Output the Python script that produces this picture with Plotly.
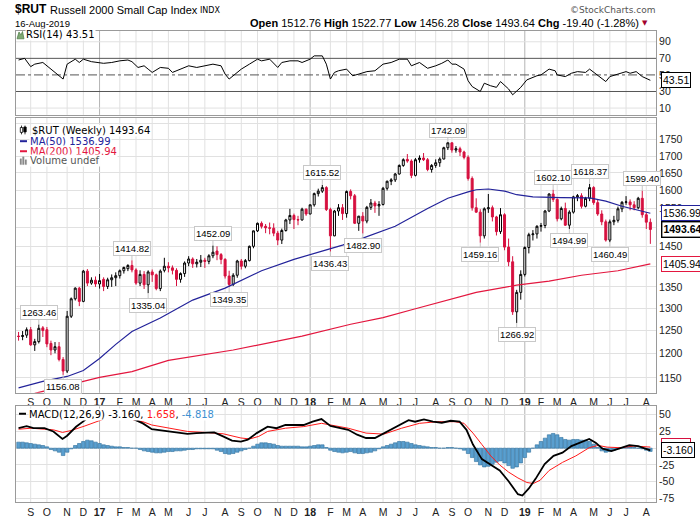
import numpy as np
import pandas as pd
import plotly.graph_objects as go

# weekly bars, week of 15-Aug-2016 .. week of 12-Aug-2019
weeks = pd.date_range("2016-08-15", periods=157, freq="W-MON")

bar_open = [1238, 1237, 1240, 1252, 1219, 1226, 1256, 1252, 1222, 1208,
            1215, 1188, 1164, 1282, 1322, 1347, 1316, 1388, 1359, 1366,
            1357, 1368, 1351, 1367, 1372, 1377, 1389, 1394, 1402, 1391,
            1359, 1380, 1355, 1386, 1379, 1346, 1390, 1400, 1396, 1390,
            1368, 1382, 1408, 1418, 1406, 1410, 1415, 1412, 1426, 1438,
            1429, 1417, 1376, 1356, 1378, 1413, 1400, 1414, 1450, 1490,
            1510, 1502, 1498, 1497, 1484, 1466, 1491, 1519, 1531, 1520,
            1519, 1548, 1535, 1560, 1591, 1598, 1608, 1547, 1477, 1543,
            1552, 1536, 1597, 1585, 1510, 1529, 1516, 1553, 1565, 1557,
            1561, 1606, 1626, 1630, 1647, 1672, 1690, 1685, 1643, 1689,
            1694, 1689, 1660, 1672, 1680, 1691, 1725, 1740, 1718, 1722,
            1712, 1696, 1634, 1552, 1540, 1477, 1549, 1552, 1527, 1488,
            1533, 1448, 1411, 1292, 1337, 1380, 1447, 1480, 1482, 1502,
            1504, 1543, 1590, 1575, 1522, 1550, 1505, 1540, 1582, 1585,
            1556, 1578, 1608, 1566, 1535, 1514, 1466, 1514, 1518, 1549,
            1567, 1568, 1560, 1552, 1578, 1533, 1512.76]
bar_high = [1247, 1249, 1257, 1258, 1232, 1263.46, 1260, 1258, 1228, 1225,
            1225, 1193, 1294, 1325, 1349, 1350, 1391, 1393, 1373, 1375,
            1381, 1373, 1372, 1380, 1385, 1392, 1399, 1405, 1414.82, 1395,
            1390, 1388, 1390, 1392, 1382, 1392, 1421, 1410, 1402, 1395,
            1385, 1412, 1425, 1422, 1418, 1428, 1421, 1430, 1452.09, 1450,
            1433, 1420, 1389, 1383, 1416, 1418, 1418, 1452, 1491, 1512,
            1515, 1508, 1512, 1510, 1490, 1496, 1522, 1549, 1536, 1530,
            1552, 1550, 1561, 1594, 1605, 1615.52, 1612, 1552, 1546, 1562,
            1562, 1600, 1603, 1590, 1530, 1540, 1557, 1576, 1571, 1570,
            1610, 1628, 1635, 1650, 1675, 1693, 1706, 1690, 1694, 1702,
            1709, 1694, 1676, 1690, 1696, 1728, 1742.09, 1741, 1730, 1728,
            1716, 1702, 1640, 1578, 1548, 1553, 1590, 1558, 1530, 1551,
            1537, 1470, 1425, 1343, 1390, 1450, 1485, 1492, 1505, 1511,
            1546, 1592, 1602.10, 1578, 1555, 1566, 1545, 1585, 1590, 1592,
            1582, 1618.37, 1612, 1575, 1545, 1520, 1520, 1530, 1555, 1570,
            1584, 1575, 1570, 1582, 1599.40, 1540, 1522.77]
bar_low = [1228, 1229, 1234, 1217, 1206, 1222, 1236, 1214, 1197, 1201,
           1184, 1156.08, 1160, 1278, 1318, 1305, 1314, 1352, 1355, 1350,
           1346, 1340, 1345, 1350, 1352, 1370, 1382, 1388, 1385, 1355,
           1352, 1345, 1335.04, 1362, 1342, 1340, 1385, 1385, 1380, 1352,
           1360, 1374, 1400, 1396, 1397, 1398, 1396, 1405, 1420, 1415,
           1405, 1370, 1349.35, 1352, 1372, 1392, 1395, 1412, 1445, 1487,
           1496, 1484, 1481, 1476, 1453, 1456, 1488, 1508, 1495, 1505,
           1517, 1530, 1534, 1555, 1583, 1593, 1543, 1436.43, 1476, 1530,
           1519, 1525, 1575, 1508, 1490, 1482.90, 1510, 1546, 1538, 1530,
           1558, 1600, 1615, 1624, 1645, 1668, 1680, 1635, 1640, 1680,
           1685, 1655, 1651, 1665, 1668, 1690, 1718, 1710, 1710, 1700,
           1690, 1628, 1544, 1538, 1459.16, 1470, 1538, 1515, 1478, 1482,
           1440, 1400, 1285, 1266.92, 1320, 1375, 1432, 1465, 1470, 1488,
           1497, 1540, 1568, 1515, 1518, 1503, 1494.99, 1536, 1570, 1550,
           1553, 1570, 1560, 1530, 1505, 1462, 1460.49, 1505, 1512, 1540,
           1560, 1545, 1545, 1548, 1525, 1495, 1456.28]
bar_close = [1237, 1239, 1252, 1219, 1226, 1255, 1250, 1221, 1208, 1215,
             1188, 1164, 1282, 1322, 1347, 1316, 1388, 1359, 1366, 1357,
             1365, 1351, 1367, 1372, 1377, 1389, 1397, 1402, 1391, 1359,
             1380, 1355, 1386, 1379, 1346, 1388, 1400, 1396, 1390, 1368,
             1382, 1408, 1418, 1406, 1410, 1415, 1412, 1426, 1435, 1429,
             1417, 1376, 1356, 1378, 1413, 1400, 1414, 1450, 1490, 1510,
             1502, 1498, 1497, 1484, 1466, 1491, 1519, 1531, 1520, 1519,
             1548, 1535, 1560, 1591, 1598, 1608, 1547, 1477, 1543, 1552,
             1536, 1597, 1585, 1510, 1529, 1516, 1553, 1565, 1557, 1561,
             1606, 1626, 1630, 1647, 1672, 1689, 1685, 1643, 1689, 1694,
             1689, 1660, 1672, 1680, 1691, 1725, 1740, 1718, 1722, 1712,
             1696, 1634, 1552, 1540, 1477, 1549, 1552, 1527, 1488, 1533,
             1448, 1411, 1292, 1337, 1380, 1447, 1480, 1482, 1502, 1504,
             1543, 1590, 1575, 1522, 1550, 1505, 1540, 1582, 1585, 1556,
             1578, 1608, 1566, 1535, 1514, 1466, 1514, 1518, 1549, 1567,
             1568, 1560, 1552, 1578, 1533, 1513, 1493.64]

# moving averages (week index, value)
ma50_wk = [0, 6, 12, 16, 20, 24, 28, 35, 43, 51, 60, 68, 76, 80, 85, 93, 101,
           106, 111, 113, 116, 120, 123, 127, 134, 141, 145, 149, 156]
ma50_val = [1130, 1143, 1153, 1165, 1190, 1220, 1248, 1278, 1319, 1347, 1389,
            1417, 1441, 1453, 1471, 1502, 1550, 1578, 1596, 1602, 1604, 1598,
            1588, 1582, 1580, 1579, 1570, 1556, 1536.99]
ma200_wk = [4, 12, 20, 28, 37, 53, 70, 82, 90, 98, 107, 113, 123, 131, 139, 148, 156]
ma200_val = [1119, 1135, 1151, 1163, 1186, 1208, 1238, 1264, 1279, 1299, 1322,
             1337, 1354, 1364, 1378, 1389, 1405.94]

# RSI(14)
rsi_wk = [0, 1.5, 3, 4, 6, 7.5, 9, 11, 12, 14, 15, 16, 18, 20, 21, 23, 25, 27,
          28, 29.5, 31, 32, 33, 35, 37, 38, 40, 42, 44, 46, 48, 50, 51, 52, 54,
          55, 57, 59, 60, 62, 64, 65, 67, 69, 70, 72, 73, 75, 76, 77, 78, 79,
          81, 82.5, 84, 86, 88, 90, 92, 94, 96, 97, 99, 101, 103, 104.5, 106,
          107, 108, 110, 111, 112, 114, 115, 116.5, 118, 119, 121, 122, 124,
          125.5, 128, 129, 131, 132.5, 133, 135, 136.5, 138, 140, 141, 142.5,
          145, 146, 148, 150, 151, 152.5, 154, 156]
rsi_val = [68, 70, 60, 63, 65, 59, 53, 45, 63, 69, 65, 69, 66, 65, 64, 65, 67,
           68, 66, 59, 61, 57, 53, 59, 58, 53, 57, 61, 59, 61, 63, 61, 51, 45,
           53, 57, 63, 69, 67, 69, 59, 65, 67, 67, 65, 69, 73, 73, 63, 45, 53,
           55, 57, 49, 51, 54, 55, 63, 65, 69, 69, 61, 65, 58, 61, 64, 68, 63,
           63, 57, 43, 36, 30, 40, 37, 35, 42, 33, 26, 35, 44, 49, 50, 57, 55,
           50, 48, 52, 54, 53, 57, 51, 42, 48, 51, 54, 52, 54, 48, 43.51]

# MACD(12,26,9)
macd_wk = [0, 2, 3.7, 6.4, 8.6, 10.85, 12, 14.2, 16.4, 18, 20, 23, 26, 28.5,
           30.7, 32.9, 35.1, 37.3, 39.5, 41.7, 43.9, 46.1, 48.3, 50.5, 52.7,
           54.9, 56.6, 58.8, 61.5, 63.7, 65.9, 68.1, 70.4, 72.6, 74.8, 77,
           79.2, 81.4, 83.6, 85.8, 88, 90.2, 92.4, 94.6, 96.3, 97.9, 100.1,
           102.3, 104.5, 106.7, 108.9, 110.6, 112.2, 114.4, 116.6, 118.8, 121,
           123.3, 124.4, 126, 127.7, 129.9, 132.1, 134.3, 136.5, 138.7, 140.9,
           142.5, 144.2, 146.4, 148.6, 150.8, 153, 155.2, 156]
macd_val = [29.8, 33, 29.8, 29.8, 25, 13.8, 18.6, 32, 41.9, 50, 55, 55, 50,
            42.9, 37, 28.3, 26.4, 25, 22.5, 21.5, 22.5, 23.5, 23.5, 17.6, 11.3,
            9.9, 12.8, 22.5, 32.2, 29.8, 34.6, 34.6, 34.6, 39.5, 43.4, 33.2,
            29.8, 27.4, 20.1, 15.2, 15.2, 22.5, 29.8, 37.1, 41.9, 39.5, 42.9,
            39.5, 38, 40.9, 39.5, 27.4, 5.5, -16.3, -25, -33.3, -49.3, -68.7,
            -70.6, -60, -45.4, -23.6, -11.5, -6.6, 3.1, 8, 13.8, 8, -0.8, -4.2,
            0.7, 4.6, 3.1, -1.8, -3.16]
signal_wk = [0, 3.1, 6.4, 8.6, 10.85, 13, 16.4, 20.8, 24, 27, 28.5, 30.7, 32.9,
             37.3, 41.7, 46.1, 50.5, 54.9, 57.1, 59.3, 61.5, 65.9, 70.4, 74.8,
             77, 81.4, 85.8, 90.2, 94.6, 99, 103.4, 107.8, 110, 112.2, 114.4,
             116.6, 118.8, 121, 123.3, 125.5, 127.1, 128.8, 131, 134.3, 137.6,
             140.9, 143.1, 145.3, 148.6, 151.9, 155.2, 156]
signal_val = [28.3, 29.8, 28.3, 27.4, 23.5, 26.4, 33.2, 42.9, 48, 46, 41.9,
              39.5, 34.6, 29.8, 25, 23.5, 21.5, 15.2, 13.8, 17.6, 25, 29.8,
              32.2, 37.1, 34.6, 29.8, 22.5, 21, 29.8, 37.1, 39.5, 39.5, 37.1,
              22.5, 5.5, -11.5, -25, -35.7, -44.4, -51.2, -52.7, -47.8, -33.3,
              -21.2, -11.5, 0.7, 4.1, 1.6, 0.7, 3.1, 2.0, 1.658]
hist_val = [9, 9, 8, 7, 6, 5, 4, 2, -2, -4, -6, -11, -6, -1, 4, 7, 10, 12, 11,
            9, 7, 5, 4, 3, 2, 2, 1, 1, 0, 0, -2, -4, -5, -6, -7, -7, -6, -5,
            -5, -4, -4, -3, -2, -2, -1, -1, -1, -1, -1, -3, -5, -8, -9, -8, -6,
            -4, -2, 0, 3, 6, 8, 8, 7, 6, 4, 3, 3, 3, 3, 3, 2, 2, 3, 4, 5, 5, 1,
            -3, -5, -6, -7, -6, -5, -7, -8, -8, -7, -6, -4, -1, 2, 4, 6, 8, 10,
            10, 9, 7, 5, 4, 3, 2, 1, 1, 0, 0, 1, 1, 0, -1, -3, -8, -14, -20,
            -25, -28, -27, -24, -21, -19, -22, -26, -30, -28, -22, -14, -6, 0,
            5, 10, 15, 20, 22, 20, 16, 13, 12, 13, 13, 12, 12, 10, 6, 1, -4,
            -6, -5, -3, -1, 1, 2, 2, 1, 0, -1, -3, -4.818]

# annotated highs and lows
pivot_wk = [5, 11, 28, 32, 48, 52, 75, 77, 85, 106, 114, 123, 132, 136, 141, 146, 154]
pivot_val = [1263.46, 1156.08, 1414.82, 1335.04, 1452.09, 1349.35, 1615.52,
             1436.43, 1482.90, 1742.09, 1459.16, 1266.92, 1602.10, 1494.99,
             1618.37, 1460.49, 1599.40]
pivot_top = [True, False, True, False, True, False, True, False, False, True,
             False, False, True, False, True, False, True]

# ---- geometry (pixels of the 700x530 page)
W, H = 700, 530
ML, MR, MT, MB = 16, 44, 31, 16
PW, PH = W - ML - MR, H - MT - MB
PXW = 4.05                      # pixels per week
X0 = -(18.55 - ML) / PXW
X1 = X0 + PW / PXW


def px(x):
    return (x - ML) / PW


def py(y):
    return 1 - (y - MT) / PH


idx = np.arange(len(weeks))
mon = weeks.month
tick_i = [i for i in range(1, len(weeks)) if mon[i] != mon[i - 1]]
tick_t = ["<b>%02d</b>" % (weeks[i].year % 100) if mon[i] == 1
          else "JFMAMJJASOND"[mon[i] - 1] for i in tick_i]

RED = "#d6103f"
BLUE = "#23239a"
MARED = "#e3173f"
GRID = "#e1e1e1"
FRAME = "#9a9a9a"
FONT = "Liberation Sans"
LFONT = "DejaVu Sans"

fig = go.Figure()

# RSI
fig.add_trace(go.Scatter(x=rsi_wk, y=rsi_val, mode="lines", line=dict(color="black", width=1),
                         xaxis="x", yaxis="y", hoverinfo="skip"))

# price
fig.add_trace(go.Candlestick(x=idx, open=bar_open, high=bar_high, low=bar_low, close=bar_close,
                             increasing=dict(line=dict(color="black", width=1), fillcolor="white"),
                             decreasing=dict(line=dict(color=RED, width=1), fillcolor=RED),
                             whiskerwidth=0, xaxis="x2", yaxis="y2", hoverinfo="skip"))
fig.add_trace(go.Scatter(x=ma50_wk, y=ma50_val, mode="lines", line=dict(color=BLUE, width=1.2),
                         xaxis="x2", yaxis="y2", hoverinfo="skip"))
fig.add_trace(go.Scatter(x=ma200_wk, y=ma200_val, mode="lines", line=dict(color=MARED, width=1.2),
                         xaxis="x2", yaxis="y2", hoverinfo="skip"))

# MACD
fig.add_trace(go.Bar(x=idx, y=hist_val, marker=dict(color="#5a9fcf", line=dict(color="#2d6e9c", width=0.6)),
                     xaxis="x3", yaxis="y3", hoverinfo="skip"))
fig.add_trace(go.Scatter(x=signal_wk, y=signal_val, mode="lines", line=dict(color="#ff1a1a", width=1),
                         xaxis="x3", yaxis="y3", hoverinfo="skip"))
fig.add_trace(go.Scatter(x=macd_wk, y=macd_val, mode="lines", line=dict(color="black", width=1.8),
                         xaxis="x3", yaxis="y3", hoverinfo="skip"))

# pointers of the value tags on the right
XP = X0 + (660 - ML) / PXW
for ax, vals, cols in [("", [43.51], ["black"]),
                       ("2", [1536.99, 1493.64, 1405.94], [BLUE, "black", MARED]),
                       ("3", [2.6, -3.16], [RED, "black"])]:
    fig.add_trace(go.Scatter(x=[XP] * len(vals), y=vals, mode="markers", cliponaxis=False,
                             marker=dict(symbol="triangle-left", size=11, color="white",
                                         line=dict(color=cols, width=1)),
                             xaxis="x" + ax, yaxis="y" + ax, hoverinfo="skip"))

tickfont = dict(family=FONT, size=10.5, color="#222")
xcommon = dict(range=[X0, X1], tickmode="array", tickvals=tick_i, ticktext=tick_t,
               showgrid=False, zeroline=False,
               showline=True, mirror=True, linecolor=FRAME, ticks="", tickfont=tickfont,
               fixedrange=True, rangeslider=dict(visible=False))
ycommon = dict(side="right", showgrid=True, gridcolor=GRID, zeroline=False, showline=True,
               mirror=True, linecolor=FRAME, ticks="", tickfont=tickfont, fixedrange=True)

main_ticks = list(range(1150, 1801, 50))
hidden = (1400, 1500, 1800)     # covered by the value tags / outside the labels
lo, hi = 1120.3, 1818.4

fig.update_layout(
    width=W, height=H, margin=dict(l=ML, r=MR, t=MT, b=MB),
    paper_bgcolor="white", plot_bgcolor="white", showlegend=False, bargap=0.12,
    xaxis=dict(xcommon, anchor="y", showticklabels=False),
    yaxis=dict(ycommon, domain=[py(117), 1], range=[1.8, 103], showgrid=False,
               tickvals=[10, 30, 50, 70, 90], anchor="x"),
    xaxis2=dict(xcommon, anchor="y2", showticklabels=True),
    yaxis2=dict(ycommon, domain=[py(402), py(120)], type="log",
                range=[np.log10(lo), np.log10(hi)], tickvals=main_ticks,
                ticktext=["" if v in hidden else str(v) for v in main_ticks], anchor="x2"),
    xaxis3=dict(xcommon, anchor="y3", showticklabels=True),
    yaxis3=dict(ycommon, domain=[0, py(416)], range=[-80.3, 62.3],
                tickvals=[50, 25, 0, -25, -50, -75],
                ticktext=["50", "25", "", "-25", "-50", "-75"], anchor="x3"),
)

shapes = []
# month gridlines (year starts a bit darker), drawn as shapes under the data
for ax in ["", "2", "3"]:
    for i in tick_i:
        col = "#b4b4b4" if mon[i] == 1 else GRID
        shapes.append(dict(type="line", xref="x" + ax, yref="y%s domain" % ax, x0=i, x1=i,
                           y0=0, y1=1, line=dict(color=col, width=1), layer="below"))
# RSI levels
for lvl, col, dash in [(10, GRID, "solid"), (90, GRID, "solid"), (70, "#555", "solid"),
                       (30, "#555", "solid"), (50, "#555", "dashdot")]:
    shapes.append(dict(type="line", xref="x domain", yref="y", x0=0, x1=1, y0=lvl, y1=lvl,
                       line=dict(color=col, width=1, dash=dash), layer="below"))


def rect(x0, y0, x1, y1, fill, line="black", w=0.8):
    return dict(type="rect", xref="paper", yref="paper", x0=px(x0), x1=px(x1), y0=py(y1), y1=py(y0),
                fillcolor=fill, line=dict(color=line, width=w))


def hline(x0, x1, y, color, w=2):
    return dict(type="line", xref="paper", yref="paper", x0=px(x0), x1=px(x1), y0=py(y), y1=py(y),
                line=dict(color=color, width=w))


# legend icons
shapes += [
    dict(type="path", xref="paper", yref="paper",
         path="M %f %f L %f %f L %f %f L %f %f L %f %f Z" % (
             px(17), py(39), px(19), py(32), px(21), py(35), px(22.5), py(31.5), px(24), py(39)),
         fillcolor="#7ea873", line=dict(color="#4b7a42", width=0.7)),
    dict(type="line", xref="paper", yref="paper", x0=px(21.5), x1=px(21.5), y0=py(128), y1=py(137),
         line=dict(color="black", width=0.8)),
    rect(20.3, 130, 22.7, 135, "white"),
    dict(type="line", xref="paper", yref="paper", x0=px(25), x1=px(25), y0=py(128), y1=py(137),
         line=dict(color="black", width=0.8)),
    rect(23.8, 129.5, 26.2, 134.5, "black"),
    hline(20, 27, 144, BLUE),
    hline(20, 27, 154.3, MARED),
    rect(20, 162, 21.6, 168, "#888", "#888", 0.3),
    rect(22.5, 160, 24.1, 168, "#888", "#888", 0.3),
    rect(25, 163, 26.6, 168, "#888", "#888", 0.3),
    hline(19, 26, 423.5, "black"),
]
fig.update_layout(shapes=shapes)

ann = []


def text(t, x, y, size=10, color="black", anchor="left", family=LFONT, bg=None):
    d = dict(text=t, x=px(x), y=py(y), xref="paper", yref="paper", xanchor=anchor, yanchor="middle",
             showarrow=False, font=dict(family=family, size=size, color=color), borderpad=0)
    if bg:
        d["bgcolor"] = bg
    return d


# header
ann.append(text("<b>$RUT</b>", 14, 8.5, 12, family=FONT))
ann.append(text("Russell 2000 Small Cap Index", 49, 9.5, 11, family=FONT))
ann.append(text("INDX", 199, 10, 8, family=LFONT))
ann.append(text("16-Aug-2019", 14, 23, 9.5, family=FONT))
ann.append(text("©StockCharts.com", 656, 9.5, 9, "#555", "right", LFONT))
ann.append(text("<b>Open</b> 1512.76 <b>High</b> 1522.77 <b>Low</b> 1456.28 "
                "<b>Close</b> 1493.64 <b>Chg</b> -19.40 (-1.28%)", 640, 22.7, 11, anchor="right", family=FONT))
ann.append(text("▼", 640.5, 23.3, 7, "#a3002d", family=LFONT))

# panel legends
ann.append(text("RSI(14) 43.51", 24.5, 35, 10, bg="white"))
ann.append(text("$RUT (Weekly) 1493.64", 31, 132.7, 10, bg="white"))
ann.append(text("MA(50) 1536.99", 29, 144, 10, BLUE, bg="white"))
ann.append(text("MA(200) 1405.94", 29, 154.3, 10, MARED, bg="white"))
ann.append(text("Volume undef", 29, 164.3, 10, "#555", bg="white"))
ann.append(text("MACD(12,26,9) -3.160, <span style='color:#ff1a1a'>1.658</span>, "
                "<span style='color:#3d8fd0'>-4.818</span>", 28, 424, 10, bg="white"))

# value tags on the right
tag_x = px(660.5)
for t, ref, y, col, bold in [("43.51", "y", 43.51, "black", False),
                             ("1536.99", "y2", np.log10(1536.99), BLUE, False),
                             ("1493.64", "y2", np.log10(1493.64), "black", True),
                             ("1405.94", "y2", np.log10(1405.94), MARED, False),
                             ("1.658", "y3", 2.6, RED, False),
                             ("-3.160", "y3", -3.16, "black", False)]:
    ann.append(dict(text="<b>%s</b>" % t if bold else t, x=tag_x, y=y, xref="paper", yref=ref,
                    xanchor="left", yanchor="middle", showarrow=False, bgcolor="white",
                    bordercolor=col, borderwidth=1.4 if bold else 1, borderpad=1,
                    font=dict(family=FONT, size=10.5, color="black")))

# highs / lows
for i, v, top in zip(pivot_wk, pivot_val, pivot_top):
    ann.append(dict(text="%.2f" % v, x=i, y=np.log10(v), xref="x2", yref="y2",
                    showarrow=True, arrowhead=0, arrowwidth=1, arrowcolor="#c4c4c4",
                    ax=0, ay=-12 if top else 12, bgcolor="white", bordercolor="#c8c8c8",
                    borderwidth=1, borderpad=1, font=dict(family=FONT, size=9.5, color="black")))

fig.update_layout(annotations=ann)

# the page body has an 8px default margin; drop it so the figure sits at 0,0
fig.write_html("out.html", config={"displayModeBar": False},
               post_script="document.body.style.margin='0px';")
